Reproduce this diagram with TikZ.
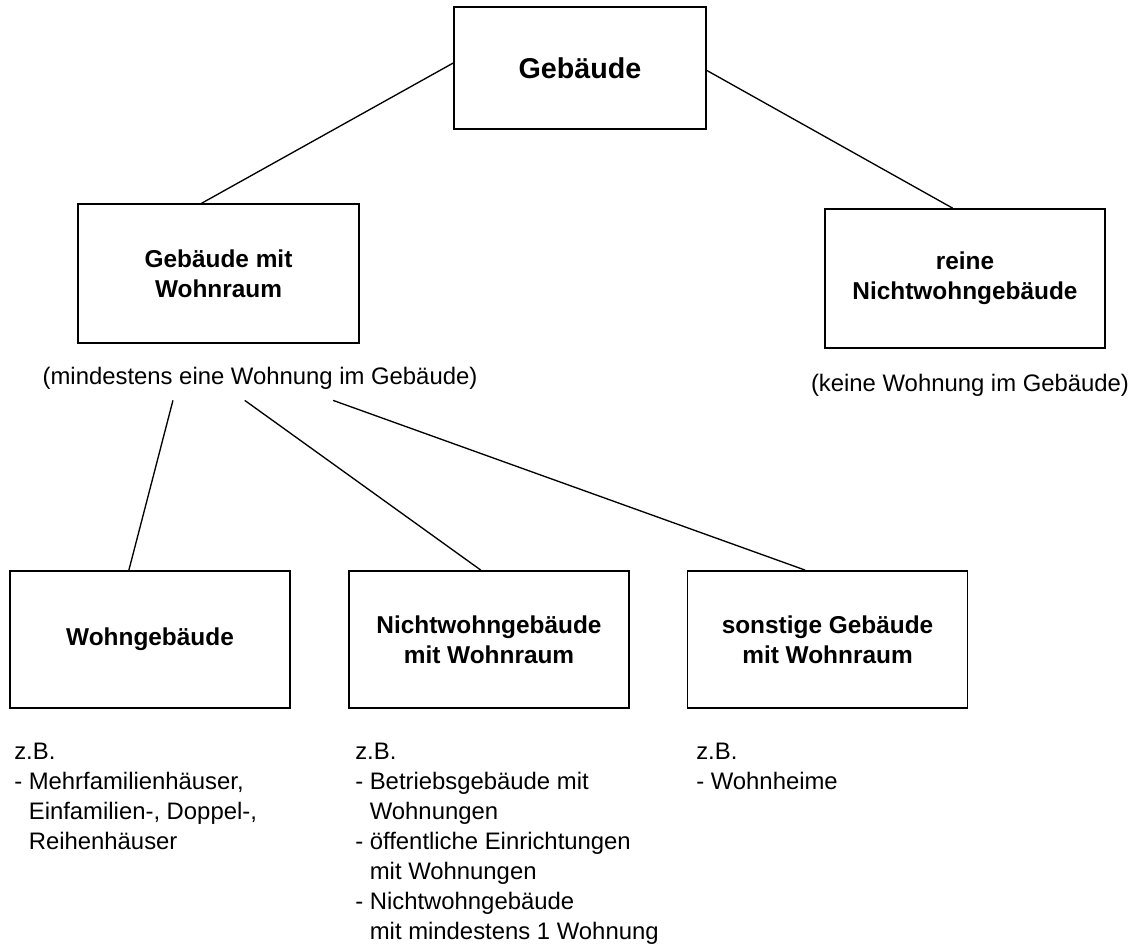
\documentclass[tikz,border=0pt]{standalone}
\usepackage{fontspec}
\setmainfont{Liberation Sans}
\usepackage{tikz}
\usetikzlibrary{calc}
\tikzset{
  box/.style={draw, line width=1.3pt, inner sep=0pt, align=center,
    minimum width=210pt, minimum height=104pt,
    font=\bfseries\fontsize{18.3}{22.5}\selectfont},
  topbox/.style={box, minimum width=189pt, minimum height=91.5pt,
    font=\bfseries\fontsize{21.5}{26}\selectfont},
  note/.style={inner sep=0pt, align=left,
    font=\fontsize{17.9}{22.5}\selectfont},
  link/.style={line width=1pt}
}

\begin{document}
\begin{tikzpicture}[x=0.75pt,y=0.75pt,yscale=-1,xscale=1]
%set diagram size to the reference
\useasboundingbox (0,0) rectangle (1146,950);

%Shape: Rectangle [top]
\node [topbox] (geb) at (580,68) {Gebäude};
%Shape: Rectangle [second row]
\node [box, minimum width=210.75pt] (gmw) at (218.5,273.5) {Gebäude mit\\Wohnraum};
\node [box] (rnw) at (965,278.5) {reine\\Nichtwohngebäude};
%Shape: Rectangle [third row]
\node [box, minimum height=102.75pt] (wg) at (150,639.5) {Wohngebäude};
\node [box, minimum height=102.75pt] (nwg) at (489,639.5) {Nichtwohngebäude\\mit Wohnraum};
\node [box, minimum height=102.75pt] (sg) at (827.5,639.5) {sonstige Gebäude\\mit Wohnraum};

% Text Node
\node [note] (mwlabel) at (260,378) {(mindestens eine Wohnung im Gebäude)};
% Text Node
\node [note] (kwlabel) at (970,385) {(keine Wohnung im Gebäude)};
% Text Node
\node [note, anchor=north west] (wgnote) at (14,743) {z.B.\\- Mehrfamilienhäuser,\\\phantom{- }Einfamilien-, Doppel-,\\\phantom{- }Reihenhäuser};
% Text Node
\node [note, anchor=north west] (nwgnote) at (355,743) {z.B.\\- Betriebsgebäude mit\\\phantom{- }Wohnungen\\- öffentliche Einrichtungen\\\phantom{- }mit Wohnungen\\- Nichtwohngebäude\\\phantom{- }mit mindestens 1 Wohnung};
% Text Node
\node [note, anchor=north west] (sgnote) at (696,743) {z.B.\\- Wohnheime};

%Straight Lines
\draw [link] ($(geb.north west)!0.46!(geb.south west)$) -- ($(gmw.north west)!0.44!(gmw.north east)$);
\draw [link] ($(geb.north east)!0.52!(geb.south east)$) -- ($(rnw.north west)!0.457!(rnw.north east)$);
%Straight Lines
\draw [link] ($(mwlabel.south west)!0.30!(mwlabel.south east)+(0,11)$) -- ($(wg.north west)!0.425!(wg.north east)$);
\draw [link] ($(mwlabel.south west)!0.465!(mwlabel.south east)+(0,11)$) -- ($(nwg.north west)!0.471!(nwg.north east)$);
\draw [link] ($(mwlabel.south west)!0.668!(mwlabel.south east)+(0,11)$) -- ($(sg.north west)!0.421!(sg.north east)$);

\end{tikzpicture}
\end{document}
